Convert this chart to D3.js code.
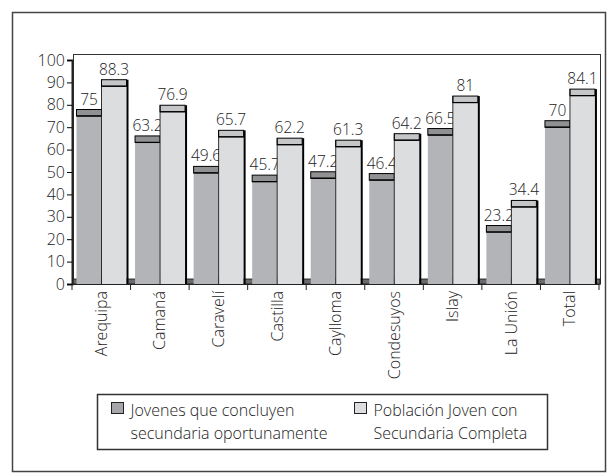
<!DOCTYPE html>
<html>
<head>
<meta charset="utf-8">
<script src="https://cdn.jsdelivr.net/npm/d3@7"></script>
<style>
  body { margin: 0; background: #fff; }
  text { font-family: "Open Sans", "Noto Sans", sans-serif; font-weight: 300; fill: #222; }
</style>
</head>
<body>
<svg id="chart" width="610" height="476"></svg>
<script>
// data
const categories = ["Arequipa", "Camaná", "Caravelí", "Castilla", "Caylloma", "Condesuyos", "Islay", "La Unión", "Total"];
const jovenesOportuno = [75, 63.2, 49.6, 45.7, 47.2, 46.4, 66.5, 23.2, 70];
const poblacionCompleta = [88.3, 76.9, 65.7, 62.2, 61.3, 64.2, 81, 34.4, 84.1];
const seriesNames = [
  ["Jovenes que concluyen", "secundaria oportunamente"],
  ["Población Joven con", "Secundaria Completa"]
];
const yTicks = [0, 10, 20, 30, 40, 50, 60, 70, 80, 90, 100];

const frontColors = ["#b2b4b7", "#dcdddf"];
const topColors = ["#909193", "#c5c6c8"];

const svg = d3.select("#chart");

// outer frame
svg.append("rect")
  .attr("x", 12.5).attr("y", 12.5).attr("width", 593).attr("height", 459)
  .attr("fill", "none").attr("stroke", "#444").attr("stroke-width", 1.5);

const x = d3.scaleBand().domain(categories).range([72, 599]);
const y = d3.scaleLinear().domain([0, 100]).range([284, 60]);

// plot border
svg.append("rect")
  .attr("x", 73.5).attr("y", 54.5).attr("width", 527).attr("height", y(0) - 54.5)
  .attr("fill", "none").attr("stroke", "#333").attr("stroke-width", 1);

// floor
svg.append("rect")
  .attr("x", 73).attr("y", y(0) - 5).attr("width", 527).attr("height", 5)
  .attr("fill", "#6a6a6a").attr("stroke", "#111").attr("stroke-width", 0.8);

// bars
const depth = 6.5, bw = 25;
const series = [jovenesOportuno, poblacionCompleta];
series.forEach(function (vals, s) {
  const g = svg.append("g");
  const bars = g.selectAll("g").data(categories).enter().append("g");
  bars.append("rect")
    .attr("x", function (d) { return x(d) + 4.5 + s * bw; })
    .attr("y", function (d, i) { return y(vals[i]); })
    .attr("width", bw)
    .attr("height", function (d, i) { return y(0) - y(vals[i]); })
    .attr("fill", frontColors[s]);
  bars.append("rect")
    .attr("x", function (d) { return x(d) + 4.5 + s * bw; })
    .attr("y", function (d, i) { return y(vals[i]) - depth; })
    .attr("width", bw)
    .attr("height", depth)
    .attr("fill", topColors[s])
    .attr("stroke", "#000").attr("stroke-width", 1);
  bars.append("line")
    .attr("x1", function (d) { return x(d) + 4.5 + s * bw; })
    .attr("x2", function (d) { return x(d) + 4.5 + (s + 1) * bw; })
    .attr("y1", function (d, i) { return y(vals[i]); })
    .attr("y2", function (d, i) { return y(vals[i]); })
    .attr("stroke", "#000").attr("stroke-width", 1.2);
  if (s === 1) {
    // side edge of the back bar
    bars.append("line")
      .attr("x1", function (d) { return x(d) + 4.5 + 2 * bw + 1; })
      .attr("x2", function (d) { return x(d) + 4.5 + 2 * bw + 1; })
      .attr("y1", function (d, i) { return y(vals[i]) - depth; })
      .attr("y2", y(0))
      .attr("stroke", "#000").attr("stroke-width", 2);
    bars.append("line")
      .attr("x1", function (d) { return x(d) + 4.5 + bw; })
      .attr("x2", function (d) { return x(d) + 4.5 + bw; })
      .attr("y1", function (d, i) { return y(vals[i]) - depth; })
      .attr("y2", y(0))
      .attr("stroke", "#000").attr("stroke-width", 0.8);
  }
  bars.append("text")
    .attr("x", function (d) { return x(d) + 4.5 + s * bw + bw / 2; })
    .attr("y", function (d, i) { return y(vals[i]) - depth - 5; })
    .attr("text-anchor", "middle")
    .attr("font-size", "15.5px")
    .attr("fill", "#333")
    .text(function (d, i) { return vals[i]; });
});

// y axis
const yAxis = svg.append("g")
  .attr("transform", "translate(72,0)")
  .call(d3.axisLeft(y).tickValues(yTicks).tickSize(5).tickPadding(2));
yAxis.select(".domain").attr("stroke", "#222").attr("stroke-width", 2);
yAxis.selectAll("text").attr("font-size", "16px").attr("fill", "#222")
  .style("font-family", "'Open Sans', sans-serif");

// x axis
const xAxis = svg.append("g")
  .attr("transform", "translate(0," + y(0) + ")")
  .call(d3.axisBottom(x).tickSize(0).tickPadding(0));
xAxis.select(".domain").attr("stroke", "#222").attr("stroke-width", 1.2);
xAxis.selectAll("text")
  .attr("transform", "rotate(-90)")
  .attr("text-anchor", "end")
  .attr("x", -7).attr("y", 0).attr("dy", "0.35em")
  .attr("font-size", "16px").attr("fill", "#222")
  .style("font-family", "'Open Sans', sans-serif");
xAxis.selectAll(".sep").data(d3.range(categories.length + 1)).enter()
  .append("line")
  .attr("x1", function (i) { return i < categories.length ? x(categories[i]) : x.range()[1]; })
  .attr("x2", function (i) { return i < categories.length ? x(categories[i]) : x.range()[1]; })
  .attr("y1", 0).attr("y2", 6)
  .attr("stroke", "#222").attr("stroke-width", 1);

// legend
const lg = svg.append("g");
lg.append("rect")
  .attr("x", 97.5).attr("y", 394.5).attr("width", 450).attr("height", 55)
  .attr("fill", "#fff").attr("stroke", "#333").attr("stroke-width", 1.5);
const lx = [111, 354];
seriesNames.forEach(function (name, s) {
  lg.append("rect")
    .attr("x", lx[s] + 0.5).attr("y", 402.5).attr("width", 12).attr("height", 11)
    .attr("fill", s === 0 ? "#a4a6a9" : "#dcdddf")
    .attr("stroke", "#222").attr("stroke-width", 1);
  lg.selectAll(".l" + s).data(name).enter().append("text")
    .attr("x", lx[s] + 19.5)
    .attr("y", function (d, i) { return 416 + i * 22.5; })
    .attr("font-size", "16px")
    .text(function (d) { return d; });
});
</script>
</body>
</html>
